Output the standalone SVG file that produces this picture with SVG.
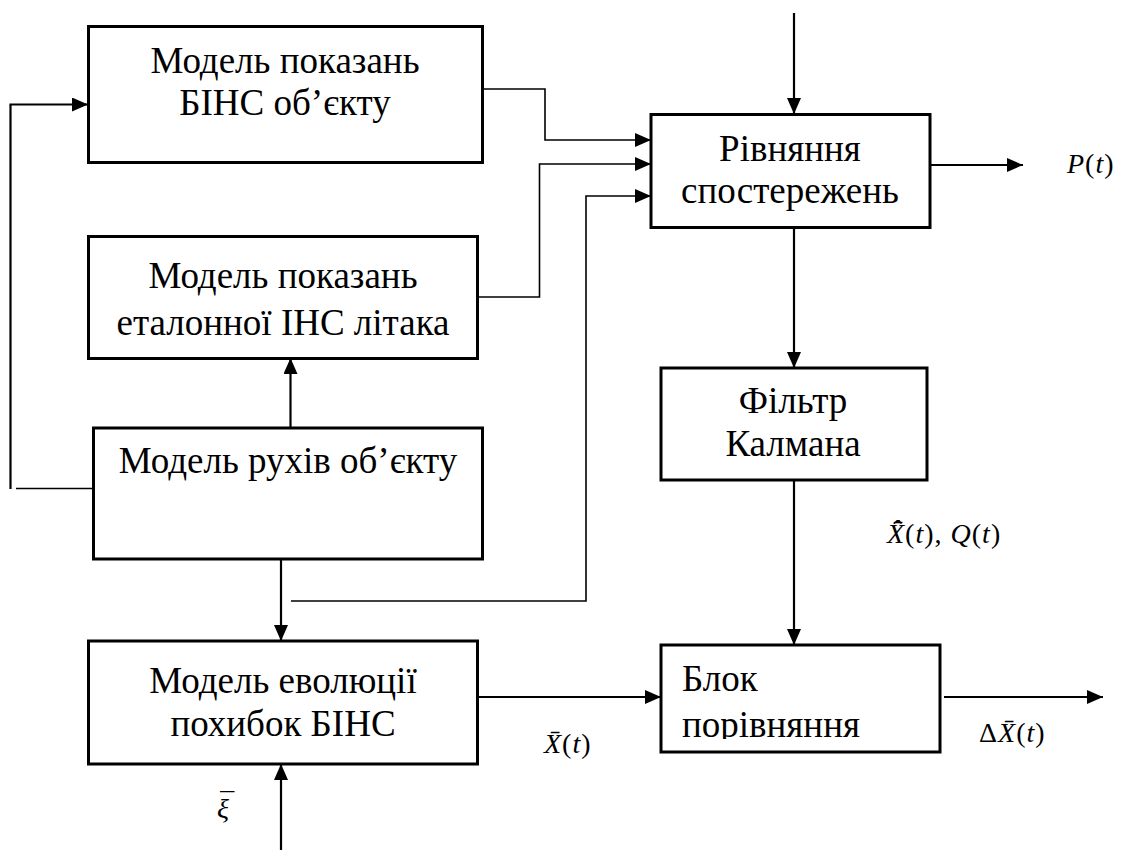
<svg xmlns="http://www.w3.org/2000/svg" width="1125" height="850" viewBox="0 0 1125 850">
<defs>
<style>
.box{fill:#fff;stroke:#000;stroke-width:3}
.t{font-size:37px;fill:#000}
.m{font-size:28px;letter-spacing:1px;fill:#000}
.i{font-style:italic}
.c{fill:none;stroke:#000;stroke-width:2.2}
.thin{fill:none;stroke:#000;stroke-width:1.6}
</style>
<marker id="ah" viewBox="0 0 16 14" refX="16" refY="7" markerWidth="16" markerHeight="14" markerUnits="userSpaceOnUse" orient="auto">
<path d="M0,0 L16,7 L0,14 Z" fill="#000"/>
</marker>
<clipPath id="clipB"><rect x="660" y="645" width="280" height="94"/></clipPath>
</defs>
<rect width="1125" height="850" fill="#fff"/>
<g id="connectors">
<path class="c" d="M10.5,489 V104.5 H88" marker-end="url(#ah)"/>
<path class="thin" d="M16,488.5 H93"/>
<path class="thin" d="M483,89 H545 V140 H651" marker-end="url(#ah)"/>
<path class="thin" d="M478,297 H539.5 V164 H651" marker-end="url(#ah)"/>
<path class="thin" d="M291,601 H586 V196 H651" marker-end="url(#ah)"/>
<path class="c" d="M794,13 V114" marker-end="url(#ah)"/>
<path class="c" d="M794,222 V368" marker-end="url(#ah)"/>
<path class="c" d="M794,475 V645" marker-end="url(#ah)"/>
<path class="c" d="M930,165 H1023" marker-end="url(#ah)"/>
<path class="c" d="M290.5,428 V358" marker-end="url(#ah)"/>
<path class="c" d="M281,559 V641" marker-end="url(#ah)"/>
<path class="c" d="M281,850 V764" marker-end="url(#ah)"/>
<path class="c" d="M473,697 H661" marker-end="url(#ah)"/>
<path class="c" d="M944,697 H1103" marker-end="url(#ah)"/>
</g>
<g font-family="Liberation Serif, Times New Roman, serif">
<g id="n-bins">
<rect class="box" x="88.5" y="26.5" width="394" height="136"/>
<text class="t" x="285" y="73" text-anchor="middle">Модель показань</text>
<text class="t" x="285" y="115" text-anchor="middle">БІНС об’єкту</text>
</g>
<g id="n-ins">
<rect class="box" x="88.5" y="236.5" width="389" height="122"/>
<text class="t" x="283" y="288" text-anchor="middle">Модель показань</text>
<text class="t" x="283" y="335" text-anchor="middle">еталонної ІНС літака</text>
</g>
<g id="n-motion">
<rect class="box" x="93.5" y="428" width="389" height="131"/>
<text class="t" x="288" y="473" text-anchor="middle">Модель рухів об’єкту</text>
</g>
<g id="n-evol">
<rect class="box" x="88.5" y="641" width="389" height="123"/>
<text class="t" x="283" y="693" text-anchor="middle">Модель еволюції</text>
<text class="t" x="283" y="736" text-anchor="middle">похибок БІНС</text>
</g>
<g id="n-obs">
<rect class="box" x="651" y="114.5" width="279" height="113"/>
<text class="t" x="790" y="161" text-anchor="middle">Рівняння</text>
<text class="t" x="790" y="203" text-anchor="middle">спостережень</text>
</g>
<g id="n-kalman">
<rect class="box" x="661" y="368" width="266" height="112"/>
<text class="t" x="793" y="413" text-anchor="middle">Фільтр</text>
<text class="t" x="793" y="456" text-anchor="middle">Калмана</text>
</g>
<g id="n-compare">
<rect class="box" x="661" y="645" width="279" height="107"/>
<text class="t" x="682" y="691">Блок</text>
<text class="t" x="682" y="737" clip-path="url(#clipB)">порівняння</text>
</g>
<g id="labels">
<text class="m" x="1067" y="173"><tspan class="i">P</tspan>(<tspan class="i">t</tspan>)</text>
<text class="m" x="887" y="543"><tspan class="i">X̄̂</tspan>(<tspan class="i">t</tspan>), <tspan class="i">Q</tspan>(<tspan class="i">t</tspan>)</text>
<text class="m" x="544" y="753"><tspan class="i">X̄</tspan>(<tspan class="i">t</tspan>)</text>
<text class="m" x="979" y="742">Δ<tspan class="i">X̄</tspan>(<tspan class="i">t</tspan>)</text>
<text class="m i" x="217" y="818">ξ<tspan dx="-12" dy="-6">¯</tspan></text>
</g>
</g>
</svg>
